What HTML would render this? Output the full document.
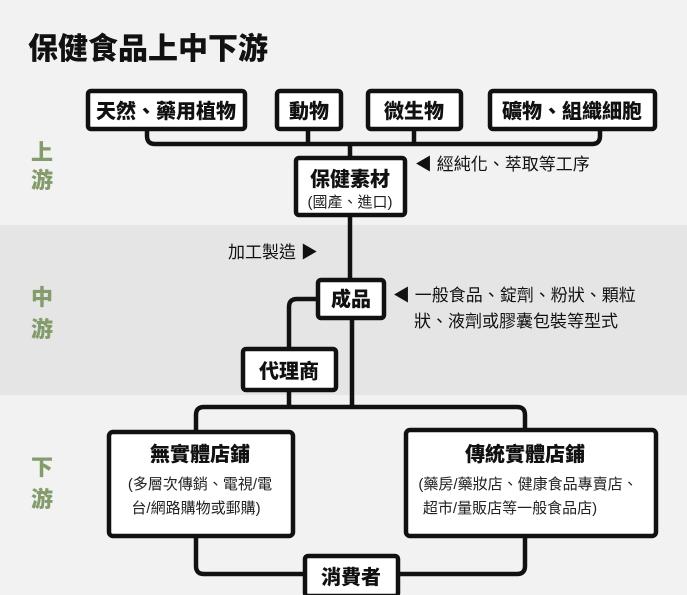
<!DOCTYPE html>
<html><head><meta charset="utf-8"><style>
html,body{margin:0;padding:0;}
body{width:687px;height:595px;overflow:hidden;background:#f2f2f2;}
svg{display:block;font-family:"Liberation Sans","Noto Sans CJK TC",sans-serif;}
</style></head><body>
<svg width="687" height="595" viewBox="0 0 687 595">
<rect x="0" y="0" width="687" height="595" fill="#f2f2f2"/>
<rect x="0" y="225" width="687" height="170" fill="#e5e5e5"/>
<text x="28" y="59" font-size="30" font-weight="900" fill="#111">保健食品上中下游</text>
<g fill="#849c6c" font-size="22" font-weight="900" text-anchor="middle">
<text x="42" y="160">上</text><text x="42" y="188">游</text>
<text x="42" y="305">中</text><text x="42" y="337">游</text>
<text x="42" y="475">下</text><text x="42" y="507">游</text>
</g>
<g fill="none" stroke="#111" stroke-width="4.5" stroke-linejoin="round">
<path d="M147 128 V136 Q147 144 155 144 H592 Q600 144 600 136 V128"/>
<path d="M308 128 V144 M414 128 V144 M350 144 V300"/>
<path d="M318 299 H297 Q289 299 289 307 V407"/>
<path d="M352 318 V407"/>
<path d="M196 432 V415 Q196 407 204 407 H517 Q525 407 525 415 V430"/>
<path d="M196 536 V566 Q196 574 204 574 H310 M395 574 H517 Q525 574 525 566 V536"/>
</g>
<g fill="#fff" stroke="#111" stroke-width="4.5">
<rect x="88" y="91" width="157" height="38" rx="3"/>
<rect x="277" y="91" width="64" height="38" rx="3"/>
<rect x="368" y="91" width="93" height="38" rx="3"/>
<rect x="490" y="91" width="165" height="38" rx="3"/>
<rect x="296" y="158" width="109" height="57" rx="3"/>
<rect x="318" y="280" width="66" height="38" rx="3"/>
<rect x="243" y="349" width="93" height="41" rx="3"/>
<rect x="109" y="432" width="184" height="104" rx="4"/>
<rect x="406" y="430" width="250" height="106" rx="4"/>
<rect x="305" y="556" width="93" height="40" rx="3"/>
</g>
<g fill="#111" font-size="20" font-weight="900" text-anchor="middle">
<text x="166" y="118">天然、藥用植物</text>
<text x="309" y="118">動物</text>
<text x="414" y="118">微生物</text>
<text x="572" y="118">礦物、組織細胞</text>
<text x="350" y="186">保健素材</text>
<text x="351" y="306">成品</text>
<text x="289" y="378">代理商</text>
<text x="200" y="461">無實體店鋪</text>
<text x="525" y="461">傳統實體店鋪</text>
<text x="351" y="584">消費者</text>
</g>
<g fill="#222" font-size="15" text-anchor="middle">
<text x="350" y="207">(國產、進口)</text>
<text x="200" y="489">(多層次傳銷、電視/電</text>
<text x="196" y="513">台/網路購物或郵購)</text>
<text x="528" y="489">(藥房/藥妝店、健康食品專賣店、</text>
<text x="510" y="513">超市/量販店等一般食品店)</text>
</g>
<g fill="#111" font-size="17">
<text x="415" y="170">◀ 經純化、萃取等工序</text>
<text x="228" y="258">加工製造 ▶</text>
<text x="393" y="301">◀ 一般食品、錠劑、粉狀、顆粒</text>
<text x="414" y="327">狀、液劑或膠囊包裝等型式</text>
</g>
</svg>
</body></html>
